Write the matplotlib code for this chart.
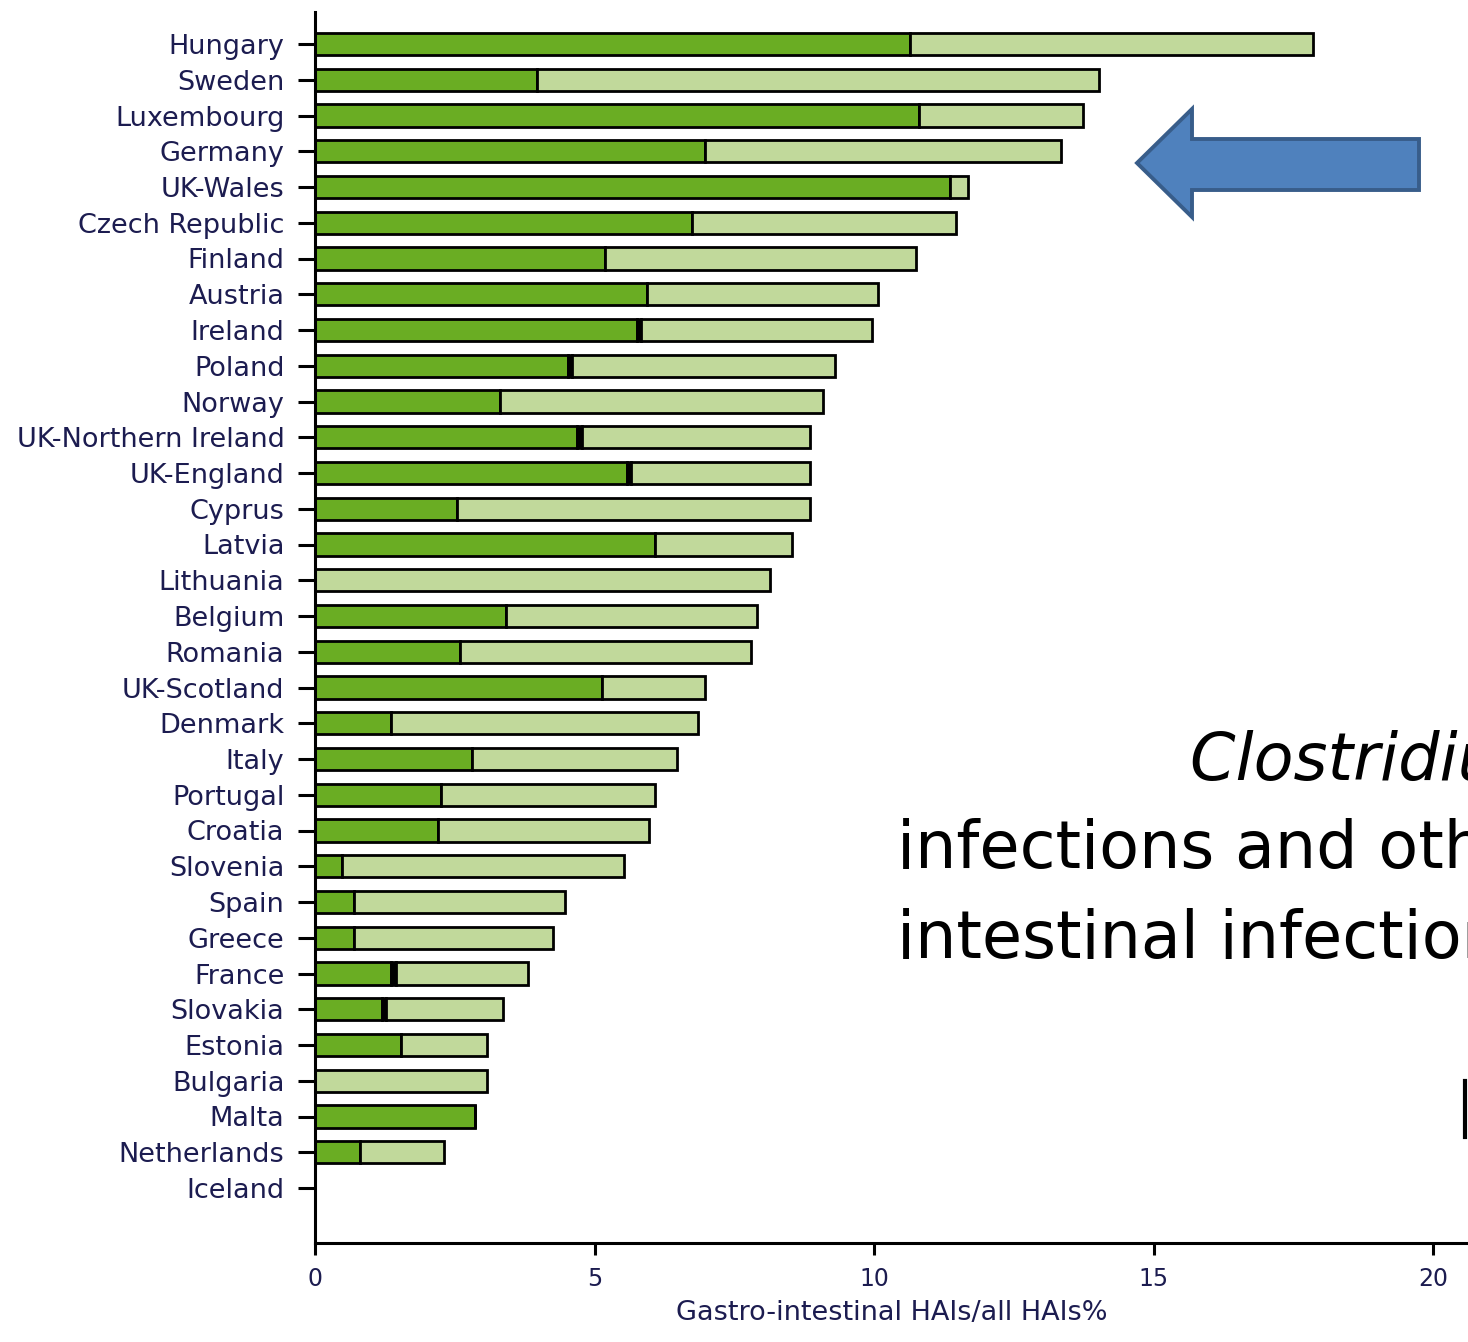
import matplotlib
matplotlib.use('Agg')
import matplotlib.pyplot as plt
from matplotlib.patches import Polygon
import matplotlib.lines as mlines

countries = ['Hungary', 'Sweden', 'Luxembourg', 'Germany', 'UK-Wales', 'Czech Republic',
             'Finland', 'Austria', 'Ireland', 'Poland', 'Norway', 'UK-Northern Ireland',
             'UK-England', 'Cyprus', 'Latvia', 'Lithuania', 'Belgium', 'Romania',
             'UK-Scotland', 'Denmark', 'Italy', 'Portugal', 'Croatia', 'Slovenia', 'Spain',
             'Greece', 'France', 'Slovakia', 'Estonia', 'Bulgaria', 'Malta', 'Netherlands',
             'Iceland']

# C. difficile share (dark green)
cdiff = [10.64, 3.97, 10.80, 6.98, 11.36, 6.74, 5.19, 5.94, 5.76, 4.53, 3.31, 4.69,
         5.58, 2.54, 6.08, 0.0, 3.42, 2.59, 5.13, 1.36, 2.81, 2.25, 2.20, 0.48, 0.70,
         0.70, 1.36, 1.20, 1.54, 0.0, 2.86, 0.80, 0.0]
# small unspecified share (black sliver)
unspec = [0, 0, 0, 0, 0, 0, 0, 0, 0.08, 0.07, 0, 0.08, 0.07, 0, 0, 0, 0, 0, 0, 0,
          0, 0, 0, 0, 0, 0, 0.09, 0.07, 0, 0, 0, 0, 0]
# total gastro-intestinal HAIs / all HAIs %
total = [17.85, 14.02, 13.74, 13.35, 11.68, 11.47, 10.75, 10.07, 9.96, 9.30, 9.09,
         8.86, 8.86, 8.86, 8.53, 8.14, 7.91, 7.80, 6.98, 6.85, 6.48, 6.08, 5.97, 5.53,
         4.47, 4.26, 3.81, 3.36, 3.08, 3.08, 2.86, 2.31, 0.0]

other = [t - c - u for t, c, u in zip(total, cdiff, unspec)]

DARK = '#6aad23'
LIGHT = '#c1d99b'
LABEL = '#1c1c50'

W, H = 1468, 1342
fig = plt.figure(figsize=(W / 100, H / 100), dpi=100)
fig.patch.set_facecolor('white')
ax = fig.add_axes([315 / W, (H - 1243) / H, (W - 315) / W, (1243 - 12) / H])

y = list(range(len(countries)))
bh = 0.62
left2 = [c + u for c, u in zip(cdiff, unspec)]
ax.barh(y, cdiff, height=bh, color=DARK, edgecolor='black', linewidth=2.0, zorder=3)
ax.barh(y, unspec, left=cdiff, height=bh, color='black', edgecolor='black',
        linewidth=2.0, zorder=3)
ax.barh(y, other, left=left2, height=bh, color=LIGHT, edgecolor='black',
        linewidth=2.0, zorder=3)

ax.set_xlim(0, (W - 315) / 55.9)
ax.set_ylim(32 + 55 / 35.75, -32 / 35.75)
ax.set_yticks(y)
ax.set_yticklabels(countries, fontsize=19.5, color=LABEL)
ax.set_xticks([0, 5, 10, 15, 20])
ax.set_xticklabels(['0', '5', '10', '15', '20'], fontsize=17, color=LABEL)
ax.tick_params(axis='y', length=12, width=2.2, pad=10, color='black')
ax.tick_params(axis='x', length=8.5, width=2.2, pad=9, color='black')
for s in ['top', 'right']:
    ax.spines[s].set_visible(False)
for s in ['left', 'bottom']:
    ax.spines[s].set_linewidth(2.2)
    ax.spines[s].set_zorder(4)
ax.set_xlabel('Gastro-intestinal HAIs/all HAIs%', fontsize=19.5, color=LABEL, labelpad=6)

# blue arrow pointing at the chart
def px(xp, yp):
    return (xp / W, 1 - yp / H)

arrow_pts = [px(1137, 163), px(1192, 109), px(1192, 139), px(1419, 139),
             px(1419, 190), px(1192, 190), px(1192, 217)]
fig.add_artist(Polygon(arrow_pts, closed=True, facecolor='#4f81bd', edgecolor='#385d8a',
                       linewidth=2.8, transform=fig.transFigure, zorder=5))

# slide text (cut off at right edge, as on the slide)
fig.text(1190 / W, 1 - 780 / H, 'Clostridium difficile', fontsize=47, style='italic',
         color='black', ha='left', va='baseline')
fig.text(897 / W, 1 - 868 / H, 'infections and other gastro-', fontsize=47,
         color='black', ha='left', va='baseline')
fig.text(897 / W, 1 - 958 / H, 'intestinal infections', fontsize=47,
         color='black', ha='left', va='baseline')
fig.add_artist(mlines.Line2D([1465 / W, 1465 / W], [1 - 1081 / H, 1 - 1137 / H],
                             color='black', linewidth=3, transform=fig.transFigure))

fig.savefig('out.png', dpi=100, facecolor='white')
